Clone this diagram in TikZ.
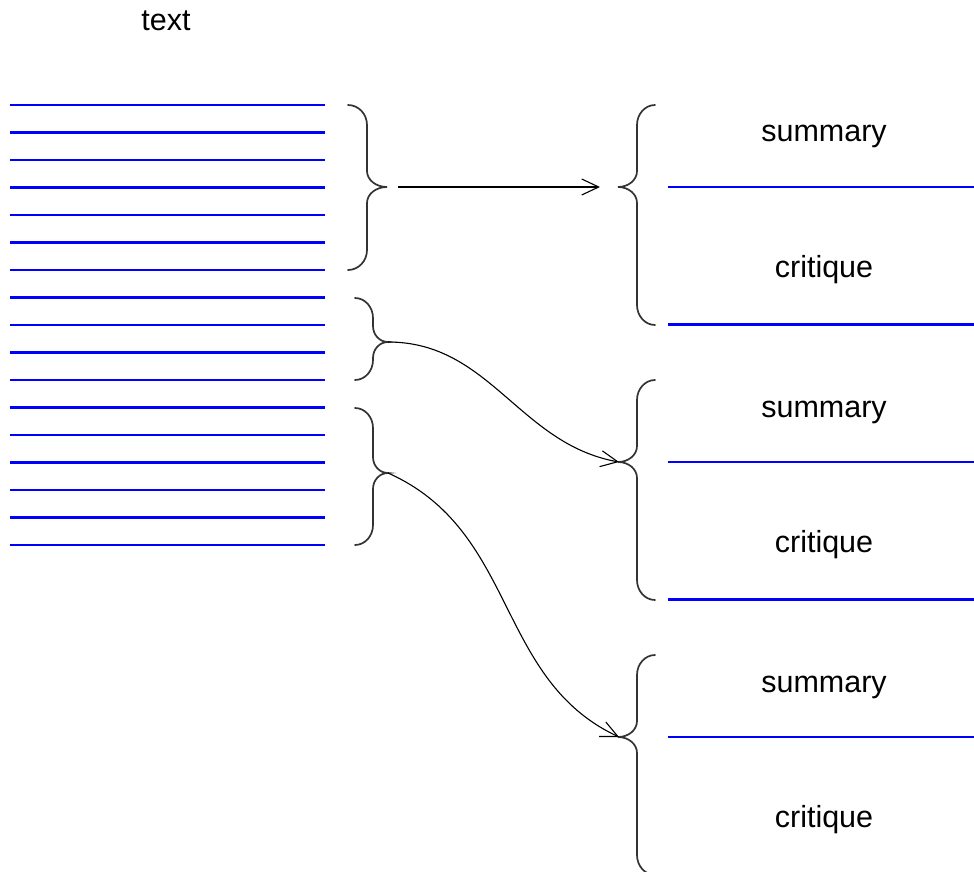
\documentclass[tikz,border=0pt]{standalone}
\usepackage{fontspec}
\setmainfont{Liberation Sans}
\usetikzlibrary{arrows.meta}
\tikzset{
  blueline/.style={draw=blue, line width=2.3pt},
  bracestyle/.style={draw=black!80, line width=1.7pt, line cap=round},
  conn/.style={draw=black, line width=1.1pt, -{Straight Barb[length=17pt,width=16pt]}},
  lbl/.style={inner sep=0pt, anchor=base, font=\fontsize{30.5}{36}\selectfont},
}
% right/left-facing brace: #1 x of ends, #2 x of stem, #3 x of tip, #4 top y, #5 tip y, #6 bottom y
\newcommand\BraceRight[6]{%
  \draw[bracestyle] (#1,#4)
    .. controls (#1+0.552*#2-0.552*#1,#4) and (#2,#4+9) .. (#2,#4+20) -- (#2,#5-16)
    .. controls (#2,#5-7) and (#3-0.552*#3+0.552*#2,#5) .. (#3,#5)
    .. controls (#3-0.552*#3+0.552*#2,#5) and (#2,#5+7) .. (#2,#5+16) -- (#2,#6-20)
    .. controls (#2,#6-9) and (#1+0.552*#2-0.552*#1,#6) .. (#1,#6);}
\begin{document}
\begin{tikzpicture}[x=1pt,y=-1pt]
\useasboundingbox (0,0) rectangle (974,872);
% title
\node[lbl] (title) at (166,31) {text};
% left text lines
\foreach \i in {0,...,16}{
  \draw[blueline] (10,105+27.5*\i) -- (325,105+27.5*\i);
}
% left braces
\BraceRight{348}{367}{387}{105}{187}{270}
\BraceRight{355}{373}{388}{298}{342}{380}
\BraceRight{355}{373}{388}{408}{473}{545}
% right braces (left-facing)
\BraceRight{655}{637}{618}{105}{187}{325}
\BraceRight{655}{637}{618}{380}{462}{600}
\BraceRight{655}{637}{618}{655}{737}{875}
% right lines
\foreach \i in {0,...,4}{
  \draw[blueline] (668,187+137.5*\i) -- (974,187+137.5*\i);
}
% labels
\node[lbl] (s1) at (824,142) {summary};
\node[lbl] (c1) at (824,277) {critique};
\node[lbl] (s2) at (824,417) {summary};
\node[lbl] (c2) at (824,552) {critique};
\node[lbl] (s3) at (824,692) {summary};
\node[lbl] (c3) at (824,827) {critique};
% connector coordinates
\coordinate (a1s) at (398,187);
\coordinate (a1e) at (600,187);
\coordinate (l2) at (388,342);
\coordinate (l3) at (388,473);
\coordinate (r2) at (619,462);
\coordinate (r3) at (619,737);
\draw[conn] (a1s) -- (a1e);
\draw[conn] (l2) .. controls +(102,0) and +(-100,-18) .. (r2);
\draw[conn] (l3) .. controls +(130,58) and +(-124,-58) .. (r3);
\end{tikzpicture}
\end{document}
